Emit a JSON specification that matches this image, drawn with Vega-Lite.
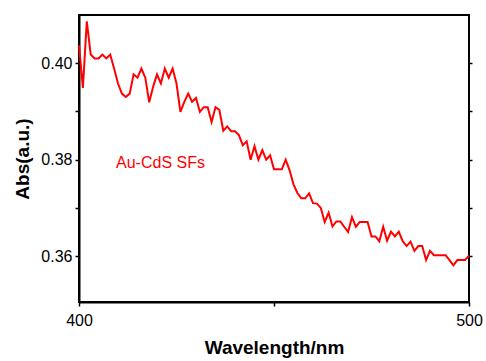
{
  "$schema": "https://vega.github.io/schema/vega-lite/v6.json",
  "autosize": {"type": "none"},
  "padding": {"left": 79, "top": 15, "right": 17, "bottom": 59},
  "width": 390,
  "height": 287,
  "background": "white",
  "config": {
    "view": {"stroke": "black", "strokeWidth": 2},
    "font": "Liberation Sans",
    "axis": {"grid": false}
  },
  "layer": [
    {
      "data": {"values": [
        {"wavelength": 400, "abs": 0.4037}, {"wavelength": 401, "abs": 0.3949}, {"wavelength": 402, "abs": 0.4087},
        {"wavelength": 403, "abs": 0.4018}, {"wavelength": 404, "abs": 0.4010}, {"wavelength": 405, "abs": 0.4010},
        {"wavelength": 406, "abs": 0.4018}, {"wavelength": 407, "abs": 0.4010}, {"wavelength": 408, "abs": 0.4018},
        {"wavelength": 409, "abs": 0.3989}, {"wavelength": 410, "abs": 0.3958}, {"wavelength": 411, "abs": 0.3937},
        {"wavelength": 412, "abs": 0.3930}, {"wavelength": 413, "abs": 0.3937}, {"wavelength": 414, "abs": 0.3977},
        {"wavelength": 415, "abs": 0.3970}, {"wavelength": 416, "abs": 0.3989}, {"wavelength": 417, "abs": 0.3970},
        {"wavelength": 418, "abs": 0.3919}, {"wavelength": 419, "abs": 0.3951}, {"wavelength": 420, "abs": 0.3977},
        {"wavelength": 421, "abs": 0.3958}, {"wavelength": 422, "abs": 0.3989}, {"wavelength": 423, "abs": 0.3970},
        {"wavelength": 424, "abs": 0.3989}, {"wavelength": 425, "abs": 0.3958}, {"wavelength": 426, "abs": 0.3899},
        {"wavelength": 427, "abs": 0.3920}, {"wavelength": 428, "abs": 0.3937}, {"wavelength": 429, "abs": 0.3920},
        {"wavelength": 430, "abs": 0.3928}, {"wavelength": 431, "abs": 0.3899}, {"wavelength": 432, "abs": 0.3909},
        {"wavelength": 433, "abs": 0.3909}, {"wavelength": 434, "abs": 0.3878}, {"wavelength": 435, "abs": 0.3909},
        {"wavelength": 436, "abs": 0.3903}, {"wavelength": 437, "abs": 0.3860}, {"wavelength": 438, "abs": 0.3869},
        {"wavelength": 439, "abs": 0.3859}, {"wavelength": 440, "abs": 0.3859}, {"wavelength": 441, "abs": 0.3851},
        {"wavelength": 442, "abs": 0.3830}, {"wavelength": 443, "abs": 0.3838}, {"wavelength": 444, "abs": 0.3800},
        {"wavelength": 445, "abs": 0.3828}, {"wavelength": 446, "abs": 0.3800}, {"wavelength": 447, "abs": 0.3820},
        {"wavelength": 448, "abs": 0.3800}, {"wavelength": 449, "abs": 0.3809}, {"wavelength": 450, "abs": 0.3780},
        {"wavelength": 451, "abs": 0.3780}, {"wavelength": 452, "abs": 0.3780}, {"wavelength": 453, "abs": 0.3800},
        {"wavelength": 454, "abs": 0.3778}, {"wavelength": 455, "abs": 0.3749}, {"wavelength": 456, "abs": 0.3731},
        {"wavelength": 457, "abs": 0.3720}, {"wavelength": 458, "abs": 0.3720}, {"wavelength": 459, "abs": 0.3730},
        {"wavelength": 460, "abs": 0.3710}, {"wavelength": 461, "abs": 0.3709}, {"wavelength": 462, "abs": 0.3700},
        {"wavelength": 463, "abs": 0.3671}, {"wavelength": 464, "abs": 0.3690}, {"wavelength": 465, "abs": 0.3662},
        {"wavelength": 466, "abs": 0.3672}, {"wavelength": 467, "abs": 0.3672}, {"wavelength": 468, "abs": 0.3661},
        {"wavelength": 469, "abs": 0.3650}, {"wavelength": 470, "abs": 0.3681}, {"wavelength": 471, "abs": 0.3661},
        {"wavelength": 472, "abs": 0.3671}, {"wavelength": 473, "abs": 0.3671}, {"wavelength": 474, "abs": 0.3671},
        {"wavelength": 475, "abs": 0.3641}, {"wavelength": 476, "abs": 0.3641}, {"wavelength": 477, "abs": 0.3631},
        {"wavelength": 478, "abs": 0.3661}, {"wavelength": 479, "abs": 0.3632}, {"wavelength": 480, "abs": 0.3651},
        {"wavelength": 481, "abs": 0.3641}, {"wavelength": 482, "abs": 0.3651}, {"wavelength": 483, "abs": 0.3631},
        {"wavelength": 484, "abs": 0.3621}, {"wavelength": 485, "abs": 0.3630}, {"wavelength": 486, "abs": 0.3611},
        {"wavelength": 487, "abs": 0.3621}, {"wavelength": 488, "abs": 0.3621}, {"wavelength": 489, "abs": 0.3592},
        {"wavelength": 490, "abs": 0.3611}, {"wavelength": 491, "abs": 0.3602}, {"wavelength": 492, "abs": 0.3602},
        {"wavelength": 493, "abs": 0.3602}, {"wavelength": 494, "abs": 0.3602}, {"wavelength": 495, "abs": 0.3592},
        {"wavelength": 496, "abs": 0.3581}, {"wavelength": 497, "abs": 0.3592}, {"wavelength": 498, "abs": 0.3592},
        {"wavelength": 499, "abs": 0.3592}, {"wavelength": 500, "abs": 0.3601}
      ]},
      "mark": {"type": "line", "color": "#ff0000", "strokeWidth": 2},
      "encoding": {
        "x": {
          "field": "wavelength", "type": "quantitative",
          "scale": {"domain": [400, 500], "nice": false, "zero": false},
          "axis": {
            "title": "Wavelength/nm", "titleFontSize": 19, "titleFontWeight": "bold", "titleColor": "black",
            "titlePadding": 10,
            "values": [400, 450, 500],
            "labelExpr": "datum.value == 450 ? '' : datum.label",
            "labelFlush": false, "labelOverlap": false,
            "labelFontSize": 16, "labelColor": "black", "labelPadding": 6,
            "tickSize": 4, "tickWidth": 1.5, "tickColor": "black",
            "domainColor": "black", "domainWidth": 2
          }
        },
        "y": {
          "field": "abs", "type": "quantitative",
          "scale": {"domain": [0.3505, 0.41], "nice": false, "zero": false},
          "axis": {
            "title": "Abs(a.u.)", "titleFontSize": 19, "titleFontWeight": "bold", "titleColor": "black",
            "titlePadding": 8,
            "values": [0.36, 0.37, 0.38, 0.39, 0.40],
            "format": ".2f",
            "labelExpr": "round(datum.value * 100) % 2 == 0 ? datum.label : ''",
            "labelFlush": false, "labelOverlap": false,
            "labelFontSize": 16, "labelColor": "black", "labelPadding": 3,
            "tickSize": 4, "tickWidth": 1.5, "tickColor": "black",
            "domainColor": "black", "domainWidth": 2
          }
        }
      }
    },
    {
      "data": {"values": [{"wavelength": 409.5, "abs": 0.3794, "label": "Au-CdS SFs"}]},
      "mark": {"type": "text", "align": "left", "baseline": "middle", "fontSize": 16, "color": "#ff0000"},
      "encoding": {
        "x": {"field": "wavelength", "type": "quantitative"},
        "y": {
          "field": "abs", "type": "quantitative",
          "axis": {
            "orient": "right", "title": null, "labels": false,
            "values": [0.36, 0.37, 0.38, 0.39, 0.40],
            "tickSize": 3, "tickWidth": 1.5, "tickColor": "black",
            "domain": false
          }
        },
        "text": {"field": "label"}
      }
    }
  ],
  "resolve": {"axis": {"y": "independent"}}
}
